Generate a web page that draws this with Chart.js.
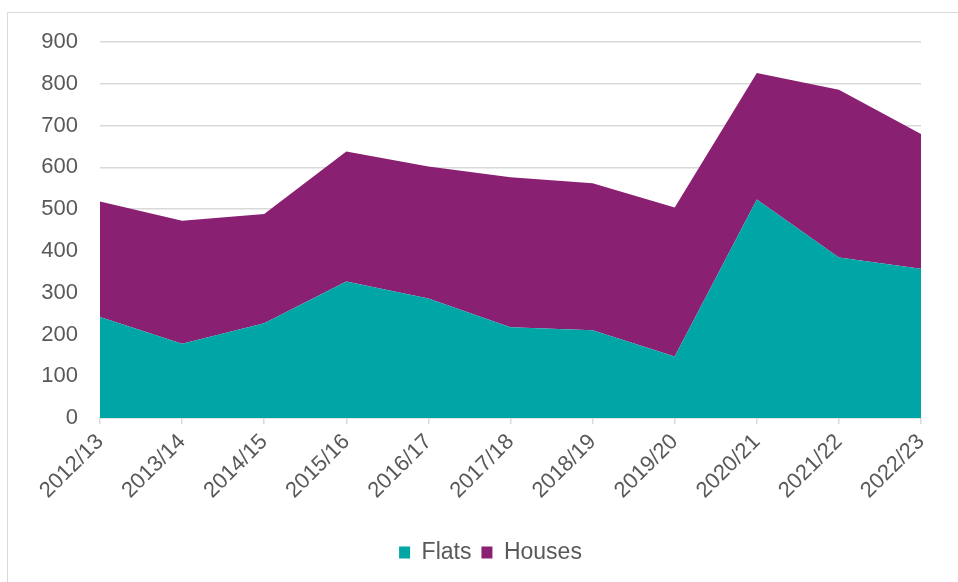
<!DOCTYPE html>
<html>
<head>
<meta charset="utf-8">
<script src="https://cdn.jsdelivr.net/npm/chart.js@4.4.0/dist/chart.umd.min.js"></script>
<style>
  html, body { margin: 0; padding: 0; background: #fff; }
  #wrap { position: relative; width: 958px; height: 582px; }
  #frame { position: absolute; left: 7px; top: 12px; right: -2px; bottom: -2px;
    border-top: 1.5px solid #d9d9d9; border-left: 1.5px solid #d9d9d9; }
  canvas { position: absolute; left: 0; top: 0; }
</style>
</head>
<body>
<div id="wrap">
  <div id="frame"></div>
  <canvas id="myChart" width="958" height="582"></canvas>
</div>
<script>
const years = ['2012/13', '2013/14', '2014/15', '2015/16', '2016/17', '2017/18',
  '2018/19', '2019/20', '2020/21', '2021/22', '2022/23'];
const flats = [242, 178, 227, 327, 286, 217, 210, 147, 523, 384, 357];
const houses = [276, 294, 261, 311, 316, 359, 352, 357, 303, 402, 323];

const textColor = '#595959';
const gridColor = '#d9d9d9';
const fontFamily = 'Liberation Sans, Arial, sans-serif';

// nudge the legend a bit to the right, like the original
const legendShift = {
  id: 'legendShift',
  afterLayout(chart) {
    if (chart.legend) {
      chart.legend.left += 30;
      chart.legend.right += 30;
    }
  }
};

const ctx = document.getElementById('myChart').getContext('2d');
const myChart = new Chart(ctx, {
  type: 'line',
  data: {
    labels: years,
    datasets: [
      {
        label: 'Flats',
        data: flats,
        backgroundColor: '#00a6a6',
        borderColor: '#00a6a6',
        borderWidth: 0,
        pointRadius: 0,
        fill: 'origin'
      },
      {
        label: 'Houses',
        data: houses,
        backgroundColor: '#8a2072',
        borderColor: '#8a2072',
        borderWidth: 0,
        pointRadius: 0,
        fill: '-1'
      }
    ]
  },
  plugins: [legendShift],
  options: {
    responsive: false,
    animation: false,
    lineTension: 0,
    layout: { padding: { top: 42, right: 37, bottom: 8, left: 0 } },
    plugins: {
      tooltip: { enabled: false },
      legend: {
        position: 'bottom',
        labels: {
          color: textColor,
          font: { family: fontFamily, size: 23 },
          boxWidth: 11,
          boxHeight: 12,
          padding: 10
        },
        onClick: null
      }
    },
    scales: {
      x: {
        offset: false,
        border: { color: gridColor, width: 1.5 },
        grid: { drawOnChartArea: false, drawTicks: true, tickLength: 6, color: gridColor, lineWidth: 1.5 },
        ticks: {
          color: textColor,
          font: { family: fontFamily, size: 22 },
          minRotation: 45,
          maxRotation: 45,
          padding: 5,
          autoSkip: false
        },
        afterFit: s => { s.height = 113; }
      },
      y: {
        stacked: true,
        min: 0,
        max: 900,
        border: { display: false },
        grid: { color: gridColor, lineWidth: 1.5, drawTicks: false },
        ticks: {
          stepSize: 100,
          color: textColor,
          font: { family: fontFamily, size: 22 },
          padding: 22
        },
        afterFit: s => { s.width = 100; }
      }
    }
  }
});
</script>
</body>
</html>
